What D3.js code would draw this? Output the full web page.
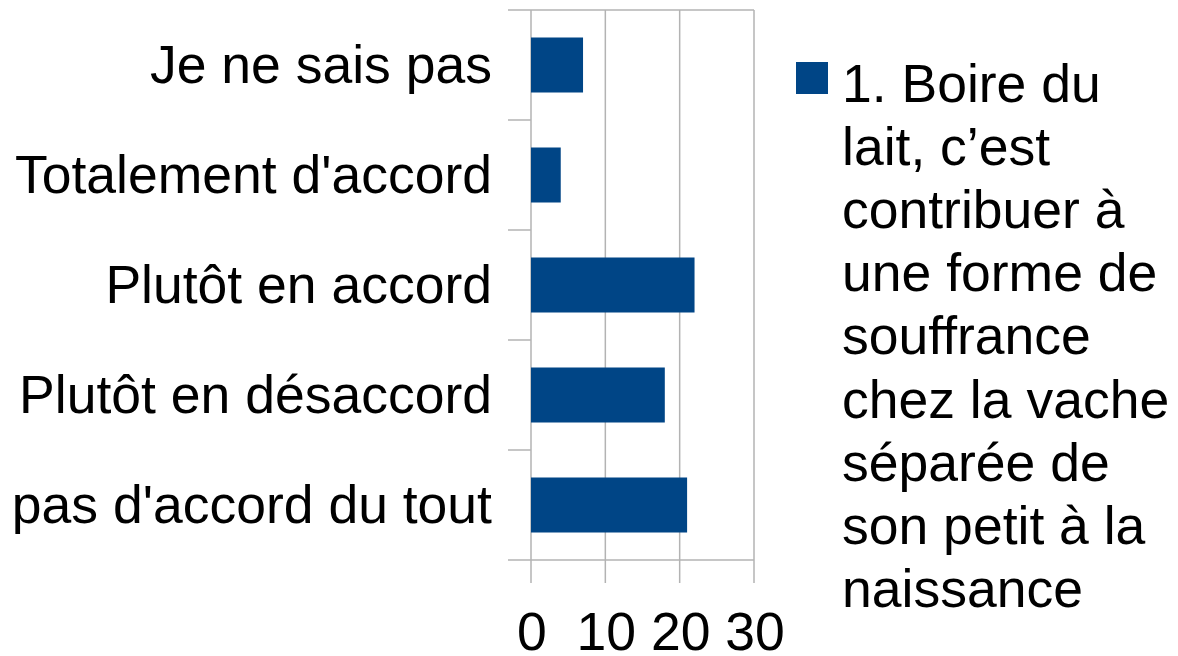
<html>
<head>
<meta charset="utf-8">
<style>
  body { margin: 0; background: #fff; }
  text { font-family: "Liberation Sans", Arial, sans-serif; fill: #000; }
</style>
<script src="https://d3js.org/d3.v7.min.js"></script>
</head>
<body>
<svg width="1178" height="656"></svg>
<script>
const categories = ["Je ne sais pas", "Totalement d'accord", "Plutôt en accord", "Plutôt en désaccord", "pas d'accord du tout"];
const values = [7, 4, 22, 18, 21];
const xTicks = [0, 10, 20, 30];
const legendLines = ["1. Boire du", "lait, c\u2019est", "contribuer à", "une forme de", "souffrance", "chez la vache", "séparée de", "son petit à la", "naissance"];

const barColor = "#004586";
const gridColor = "#b3b3b3";
const fontSize = 53.5;

const svg = d3.select("svg");

const x = d3.scaleLinear().domain([0, 30]).range([531, 754]);
const y = d3.scaleBand().domain(categories).range([10, 560]).paddingInner(0.5).paddingOuter(0.25);
const step = y.step();
const bounds = d3.range(categories.length + 1).map(i => 10 + i * step);

// vertical gridlines + ticks below
svg.append("g").selectAll("line")
  .data(xTicks)
  .enter().append("line")
  .attr("x1", d => x(d)).attr("x2", d => x(d))
  .attr("y1", 10).attr("y2", 583)
  .attr("stroke", gridColor).attr("stroke-width", 1.5);

// horizontal band boundaries (ticks on the left)
svg.append("g").selectAll("line")
  .data(bounds)
  .enter().append("line")
  .attr("x1", 508)
  .attr("x2", (d, i) => (i == 0 || i == bounds.length - 1) ? x(30) : x(0))
  .attr("y1", d => d).attr("y2", d => d)
  .attr("stroke", gridColor).attr("stroke-width", 1.5);

// bars
svg.append("g").selectAll("rect")
  .data(categories)
  .enter().append("rect")
  .attr("x", x(0))
  .attr("y", d => y(d))
  .attr("width", (d, i) => x(values[i]) - x(0))
  .attr("height", y.bandwidth())
  .attr("fill", barColor);

// category labels
svg.append("g").selectAll("text")
  .data(categories)
  .enter().append("text")
  .attr("x", 492)
  .attr("y", d => y(d) + y.bandwidth() / 2 + 18)
  .attr("text-anchor", "end")
  .style("font-size", fontSize + "px")
  .text(d => d);

// x tick labels
svg.append("g").selectAll("text")
  .data(xTicks)
  .enter().append("text")
  .attr("x", d => x(d) + 1)
  .attr("y", 650)
  .attr("text-anchor", "middle")
  .style("font-size", fontSize + "px")
  .text(d => d);

// legend
const legend = svg.append("g");
legend.append("rect")
  .attr("x", 796).attr("y", 62)
  .attr("width", 32).attr("height", 32)
  .attr("fill", barColor);

legend.selectAll("text")
  .data(legendLines)
  .enter().append("text")
  .attr("x", 842)
  .attr("y", (d, i) => 102 + i * 63.1)
  .style("font-size", fontSize + "px")
  .text(d => d);
</script>
</body>
</html>
